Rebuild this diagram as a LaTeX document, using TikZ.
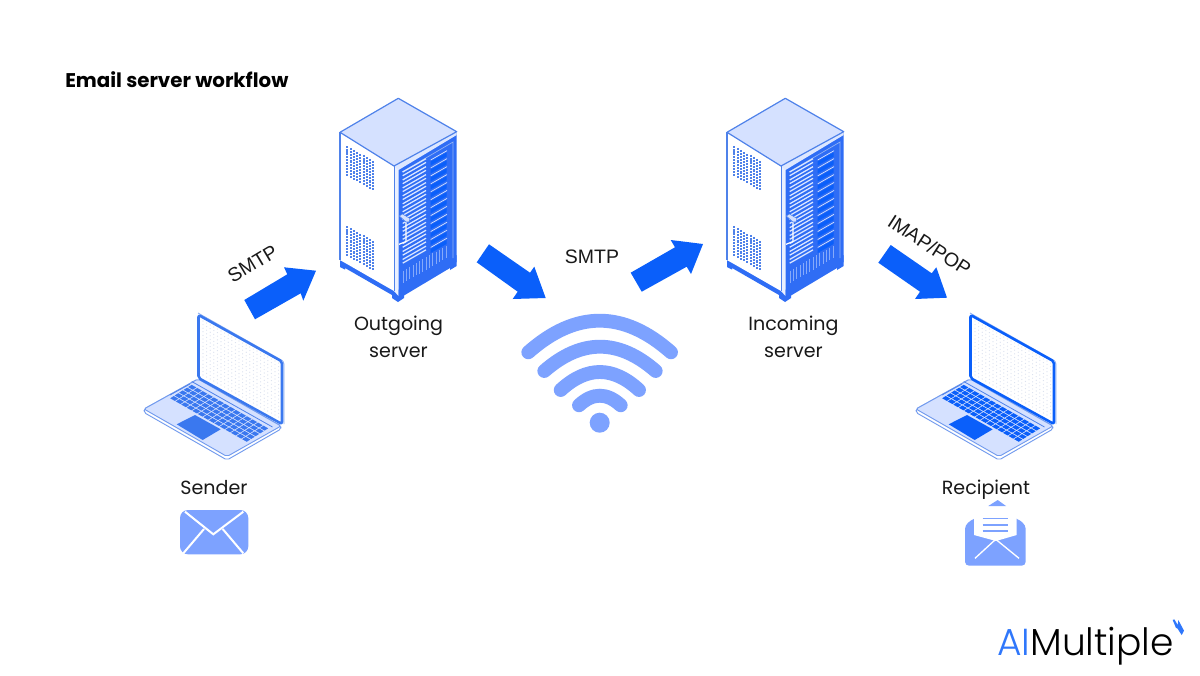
\documentclass[tikz,border=0pt]{standalone}
\usepackage{fontspec}
\setmainfont{Poppins}
\newfontfamily\arialf{Liberation Sans}
\newfontfamily\logof[UprightFont=* Light]{Poppins}
\definecolor{ablue}{HTML}{0A5FFA}
\definecolor{soft}{HTML}{7DA2FF}
\definecolor{pale}{HTML}{D5E1FF}
\definecolor{edge}{HTML}{4F82EA}
\definecolor{rack}{HTML}{2F6DF5}
\definecolor{slat}{HTML}{DCE7FF}
\definecolor{dotc}{HTML}{D9DFEE}
\tikzset{
  blockarrow/.style={fill=ablue,draw=none},
  lab/.style={inner sep=0pt,align=center,font=\fontsize{14.3}{20.5}\selectfont,text=black!90},
  proto/.style={inner sep=0pt,font=\arialf\fontsize{14.6}{17}\selectfont,text=black!90},
  wave/.style={draw=soft,line width=10.4pt,line cap=round},
}
% wifi arc: x-left, x-right, y-end, y-top
\newcommand{\wifiarc}[4]{\draw[wave] (#1,#3) .. controls ({#1+(#2-#1)/3},{#3-(#3-#4)*4/3}) and ({#2-(#2-#1)/3},{#3-(#3-#4)*4/3}) .. (#2,#3);}
\newcommand{\serverunit}[1]{%
\begin{scope}[shift={(#1,0)}]
  % feet and base
  \fill[rack] (340,260) -- (340,267) -- (345,269.5) -- (345,268) -- (392,295) -- (392,298) -- (398,302) -- (404,298) -- (404,295.5) -- (450,268) -- (450,270) -- (456.7,266) -- (456.7,255) -- (398,290) -- cycle;
  % left side
  \fill[white] (340,132) -- (394,165) -- (394,291) -- (340,260) -- cycle;
  \draw[edge,line width=0.8pt] (340,260) -- (340,132);
  % strip
  \fill[pale!50] (394,165) -- (398.5,168) -- (398.5,296) -- (394,291) -- cycle;
  % front
  \fill[rack] (398.5,168) -- (456.7,133) -- (456.7,262) -- (398.5,297) -- cycle;
  \draw[edge!60!white,line width=0.5pt] (402,172) -- (453,142) -- (453,258);
  % top
  \fill[pale] (398.3,98.3) -- (456.7,131.7) -- (394,166) -- (340,132.3) -- cycle;
  \fill[pale!80] (394,166) -- (456.7,131.7) -- (456.7,135) -- (398.5,170) -- cycle;
  \draw[edge,line width=0.9pt,line join=round] (340,132.3) -- (398.3,98.3) -- (456.7,131.7) -- (394,166) -- cycle;
  \draw[edge,line width=0.7pt] (394,166) -- (394,291);
  % vents
  \foreach \vy in {147.3,227.3}{
    \foreach \i in {0,...,8}{\foreach \j in {0,...,9}{
      \fill[edge] ({347.3+\i*3.25-0.95},{\vy+\i*1.8+\j*3.07-0.95}) rectangle ++(2.1,2.1);
    }}}
  % rack rows
  \foreach \r in {0,...,11}{
    \pgfmathsetmacro{\ya}{172+\r*7.95}
    \foreach \o in {0,3.7}{
      \draw[slat,line width=0.95pt] (402.7,{\ya+\o}) -- (426,{\ya+\o-13.3});
    }
    \draw[slat,line width=0.5pt] (430.7,{\ya-12}) -- (447,{\ya-21.3});
    \fill[ablue] (430.7,{\ya-10.5}) -- (446.7,{\ya-19.6}) -- (446.7,{\ya-15.5}) -- (430.7,{\ya-6.5}) -- cycle;
  }
  % grille
  \foreach \g in {0,...,13}{
    \draw[slat!50!rack,line width=0.6pt] ({403+\g*3.3},{270.5-\g*1.9}) -- ({403+\g*3.3},{283-\g*1.9});
  }
  % handle
  \draw[white,line width=0.9pt,line join=round] (406,221) -- (406,241.5) -- (399,244.3);
  \fill[pale,draw=edge,line width=0.4pt] (399.3,216) -- (402.5,214) -- (410,218.5) -- (409,222) -- (406,222) -- cycle;
\end{scope}}
\newcommand{\laptopunit}[2]{%
\begin{scope}[shift={(#1,0)}]
  % base
  \fill[white,draw=edge!80,line width=0.7pt,line join=round,rounded corners=1.5pt] (144,412.5) -- (144,409) -- (198,379) -- (281,426) -- (281,429) -- (227,460) -- cycle;
  \fill[pale,draw=edge!80,line width=0.7pt,line join=round,rounded corners=1.5pt] (144,409) -- (198,379) -- (281,426) -- (227,456.5) -- cycle;
  % well line
  \draw[edge,line width=0.6pt] (191.7,381.5) -- (272.5,427);
  \draw[edge,line width=0.6pt] (190,384) -- (170,395);
  % keys
  \begin{scope}[shift={(169.3,398.3)},x={(4.146pt,-2.357pt)},y={(3.36pt,2.1pt)}]
    \foreach \i in {0,...,13}{\foreach \j in {0,...,4}{
      \fill[#2] (\i+.08,\j+.1) -- ++(.84,0) -- ++(0,.8) -- ++(-.84,0) -- cycle;
    }}
  \end{scope}
  % touchpad
  \fill[#2] (176.7,424.3) -- (195,415) -- (220.7,429.3) -- (202.7,440) -- cycle;
  % screen
  \draw[edge!70,line width=0.6pt,rounded corners=2pt] (198,313) -- (284,361.5) -- (284,424);
  \fill[white] (199,315) -- (283,362) -- (283,424) -- (199,378) -- cycle;
  \begin{scope}[shift={(203,321)},x={(2.7pt,-1.5pt)},y={(0pt,2.7pt)}]
    \foreach \i in {0,...,21}{\foreach \j in {-15,...,0}{
      \fill[dotc] (\i,\j) circle[radius=0.45pt];
    }}
  \end{scope}
  \draw[#2,line width=1.9pt,line join=round,rounded corners=1.5pt] (198.5,315) -- (282,361.5) -- (282,424) -- (198.5,378) -- cycle;
\end{scope}}
\begin{document}
\begin{tikzpicture}[x=0.75pt,y=-0.75pt]
\useasboundingbox (0,0) rectangle (1200,675);
\fill[white] (0,0) rectangle (1200,675);
\node[anchor=west,inner sep=0pt,font=\bfseries\fontsize{14.85}{18}\selectfont,text=black] (title) at (65,79.5) {Email server workflow};
\serverunit{0}
\serverunit{387}
\laptopunit{0}{edge!70!ablue}
\laptopunit{772}{ablue}
% arrows
\fill[blockarrow] (244.3,300) -- (255,319.3) -- (300.7,293.3) -- (303.3,300.7) -- (316,270.7) -- (284,267.3) -- (287.3,274.3) -- cycle;
\fill[blockarrow] (489,244.3) -- (476.7,262.3) -- (517.7,291.7) -- (512.7,299) -- (545.7,298) -- (534.3,266.7) -- (530,272.7) -- cycle;
\fill[blockarrow] (630.7,272.7) -- (641.7,291.7) -- (686.7,266.7) -- (691,274) -- (703,244) -- (670.7,240) -- (675,247.3) -- cycle;
\fill[blockarrow] (890.7,245) -- (878.3,262.7) -- (920,291.7) -- (915,299) -- (947,297.7) -- (936.3,267.3) -- (931.7,273.3) -- cycle;
% labels
\node[proto,rotate=31] (smtpa) at (252.5,264) {SMTP};
\node[proto] (smtpb) at (592,257) {SMTP};
\node[proto,rotate=-33] (imap) at (929.5,245) {IMAP/POP};
\node[lab] (outgoing) at (398.5,336.5) {Outgoing\\server};
\node[lab] (incoming) at (793.5,336.5) {Incoming\\server};
\node[lab,anchor=base] (sender) at (214,494) {Sender};
\node[lab,anchor=base] (recipient) at (986,494) {Recipient};
% wifi
\wifiarc{528.3}{671}{352.3}{320.7}
\wifiarc{544.3}{655.7}{371}{346.7}
\wifiarc{560.7}{639}{390}{372}
\wifiarc{579}{620.7}{405.3}{395.7}
\fill[soft] (599.7,422.7) circle[radius=10];
% closed envelope
\fill[soft,rounded corners=6pt] (180,510) rectangle (248.3,554.3);
\draw[white,line width=1.5pt] (185,511.7) -- (213.3,534.3) -- (243.3,511.7);
\draw[white,line width=1.5pt] (183.3,553.3) -- (204,529);
\draw[white,line width=1.5pt] (243.3,553.3) -- (222.7,529);
% open envelope
\fill[soft] (988.3,506) -- (997.7,500) -- (1006,506) -- cycle;
\fill[soft,rounded corners=3pt] (965,525) -- (974.3,518) -- (1016.7,518) -- (1025.7,525) -- (1025.7,565.7) -- (965,565.7) -- cycle;
\fill[white] (974,510) -- (1016.7,510) -- (1016.7,535) -- (996,541) -- (974,535) -- cycle;
\draw[soft,line width=0.9pt] (982.7,518.3) -- (1008.3,518.3) (982.7,525) -- (1008.3,525) (982.7,531) -- (1008.3,531);
\draw[white,line width=1pt] (975,558.3) -- (995.7,539.3) -- (1019,558.3);
% logo
\node[anchor=base west,inner sep=0pt,font=\logof\fontsize{28.2}{32}\selectfont] (logo) at (997,655) {\textcolor{ablue!85!white}{AI}\textcolor{black}{Multiple}};
\fill[ablue!85!white] (1172.7,620) -- (1174.3,619.3) -- (1177.7,625) -- (1178.3,620) -- (1184,630.7) -- (1181.7,635) -- (1177.3,628.3) -- (1176,628) -- cycle;
\end{tikzpicture}
\end{document}
